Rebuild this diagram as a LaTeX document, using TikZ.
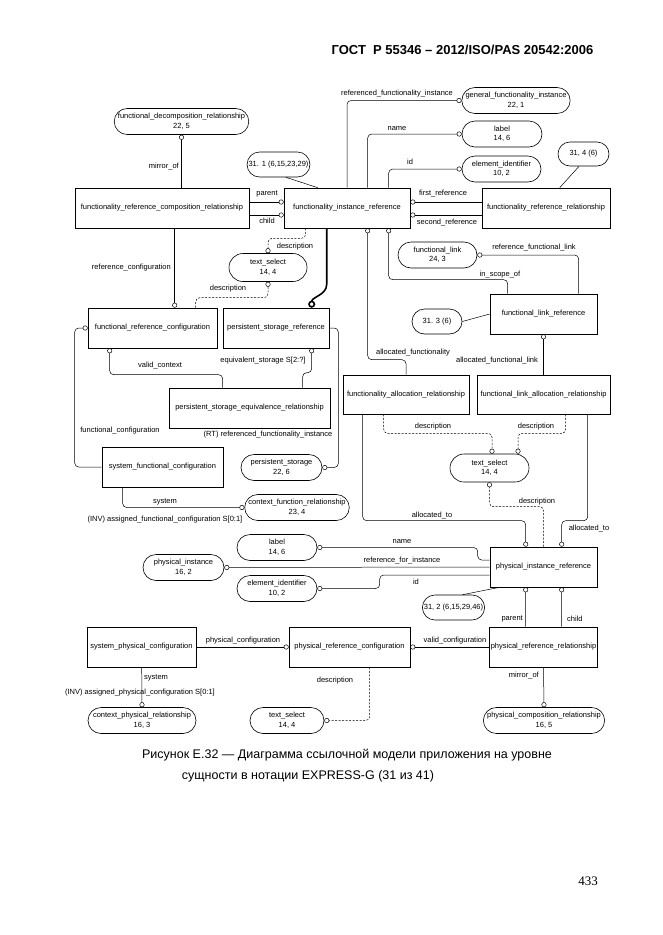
\documentclass[tikz,border=0pt]{standalone}
\usepackage{fontspec}
\setmainfont{Liberation Sans}
\newfontfamily\pagenumfont{Liberation Serif}
\usetikzlibrary{arrows.meta,calc,shapes.misc}
\newcommand\dfont{\fontsize{7.5}{9.5}\selectfont}

\tikzset{
  entity/.style={draw, line width=0.6pt, minimum height=40pt, inner sep=1pt, font=\dfont},
  stype/.style={draw, rounded rectangle, line width=0.6pt, minimum height=26pt,
    inner sep=1pt, align=center, font=\dfont},
  conn/.style={line width=0.5pt, rounded corners=4pt},
  optconn/.style={conn, dash pattern=on 2pt off 1.5pt},
  ring/.style={-{Circle[open,length=5pt]}},
  ringstart/.style={{Circle[open,length=5pt]}-},
  lbl/.style={font=\dfont, inner sep=0pt},
}

\begin{document}
\begin{tikzpicture}[x=1pt,y=-1pt]
  \useasboundingbox (0,0) rectangle (662,935);

  % page header, caption, page number
  \node[font=\bfseries\fontsize{13}{15}\selectfont] (hdr) at (462.5,50)
  {ГОСТ\ \ Р 55346 – 2012/ISO/PAS 20542:2006};
  \node[font=\fontsize{12.5}{15}\selectfont] (capA) at (347,755)
  {Рисунок Е.32 — Диаграмма ссылочной модели приложения на уровне};
  \node[font=\fontsize{12.5}{15}\selectfont] (capB) at (308,776)
  {сущности в нотации EXPRESS-G (31 из 41)};
  \node[font=\pagenumfont\fontsize{13}{15}\selectfont] (pnum) at (588,881) {433};

  % entities
  \node[entity, minimum width=174pt] (frcr) at (162,208)
  {functionality\_reference\_composition\_relationship};
  \node[entity, minimum width=126pt] (fir) at (347,208) {functionality\_instance\_reference};
  \node[entity, minimum width=128pt] (frr) at (546,208) {functionality\_reference\_relationship};
  \node[entity, minimum width=129pt] (frc) at (152.5,328) {functional\_reference\_configuration};
  \node[entity, minimum width=106pt] (psr) at (276,328) {persistent\_storage\_reference};
  \node[entity, minimum width=161pt] (pser) at (249.5,408)
  {persistent\_storage\_equivalence\_relationship};
  \node[entity, minimum width=121pt] (sfc) at (162.5,467) {system\_functional\_configuration};
  \node[entity, minimum width=107pt] (flr) at (543.5,314) {functional\_link\_reference};
  \node[entity, minimum width=126pt, minimum height=39pt] (far) at (406,394.5)
  {functionality\_allocation\_relationship};
  \node[entity, minimum width=133pt, minimum height=39pt] (flar) at (543.5,394.5)
  {functional\_link\_allocation\_relationship};
  \node[entity, minimum width=107pt] (pir) at (543.5,567) {physical\_instance\_reference};
  \node[entity, minimum width=107pt] (prr) at (543.5,647) {physical\_reference\_relationship};
  \node[entity, minimum width=121pt] (prc) at (349.5,647) {physical\_reference\_configuration};
  \node[entity, minimum width=109pt] (spc) at (141.5,647) {system\_physical\_configuration};

  % simple types and page references
  \node[stype, minimum width=133pt] (fdr) at (181.5,121.5)
  {functional\_decomposition\_relationship\\22, 5};
  \node[stype, minimum width=61pt, minimum height=25pt] (refA) at (278.5,164.5) {31. 1 (6,15,23,29)};
  \node[stype, minimum width=108pt] (gfi) at (516,100.5) {general\_functionality\_instance\\22, 1};
  \node[stype, minimum width=82pt] (labA) at (502,134) {label\\14, 6};
  \node[stype, minimum width=81pt] (eidA) at (501.5,169) {element\_identifier\\10, 2};
  \node[stype, minimum width=53pt, minimum height=24pt] (refB) at (583.5,154) {31, 4 (6)};
  \node[stype, minimum width=80pt, minimum height=28pt] (tsA) at (268,267.5) {text\_select\\14, 4};
  \node[stype, minimum width=81pt] (fl) at (437.5,255) {functional\_link\\24, 3};
  \node[stype, minimum width=52pt, minimum height=25pt] (refC) at (437,321.5) {31. 3 (6)};
  \node[stype, minimum width=83pt] (ps) at (281.5,467.5) {persistent\_storage\\22, 6};
  \node[stype, minimum width=102pt] (cfr) at (297,507.5) {context\_function\_relationship\\23, 4};
  \node[stype, minimum width=81pt, minimum height=28pt] (tsB) at (489.5,468) {text\_select\\14, 4};
  \node[stype, minimum width=82pt] (labB) at (277,547.5) {label\\14, 6};
  \node[stype, minimum width=83pt] (pinst) at (183.5,567.5) {physical\_instance\\16, 2};
  \node[stype, minimum width=82pt] (eidB) at (277,588.5) {element\_identifier\\10, 2};
  \node[stype, minimum width=61pt, minimum height=25pt] (refD) at (453.5,607.5) {31, 2 (6,15,29,46)};
  \node[stype, minimum width=120pt] (pcr) at (544,720.5) {physical\_composition\_relationship\\16, 5};
  \node[stype, minimum width=110pt] (cpr) at (142,720.5) {context\_physical\_relationship\\16, 3};
  \node[stype, minimum width=76pt] (tsC) at (287,720.5) {text\_select\\14, 4};

  % upper part
  \draw[conn, ring] (fdr.south |- frcr.north) -- (fdr.south);
  \node[lbl, anchor=east] (lmirA) at (179,167) {mirror\_of};
  \draw[conn] (refA.300) -- ($(fir.north west)+(34,0)$);
  \draw[conn, ring] (fir.north) |- (gfi.west);
  \node[lbl] (lrfi) at (397,94) {referenced\_functionality\_instance};
  \draw[conn, ring] ($(fir.north west)+(84,0)$) |- (labA.west);
  \node[lbl] (lname) at (397,129) {name};
  \draw[conn, ring] ($(fir.north west)+(105,0)$) |- (eidA.west);
  \node[lbl] (lid) at (410,162) {id};
  \draw[conn] (refB.250) -- ($(frr.north west)+(78,0)$);

  \draw[conn, ring] ($(frcr.east)+(0,-6)$) -- ($(fir.west)+(0,-6)$);
  \node[lbl] (lparA) at (267,194) {parent};
  \draw[conn, ring] ($(frcr.east)+(0,7)$) -- ($(fir.west)+(0,7)$);
  \node[lbl] (lchildA) at (267,221) {child};
  \draw[conn, ring] ($(frr.west)+(0,-6)$) -- ($(fir.east)+(0,-6)$);
  \node[lbl] (lfirst) at (443,194) {first\_reference};
  \draw[conn, ring] ($(frr.west)+(0,7)$) -- ($(fir.east)+(0,7)$);
  \node[lbl] (lsecond) at (447,223) {second\_reference};

  % subtype of functionality_instance_reference
  \draw[line width=1.6pt, -{Circle[open,length=7pt]}] ($(fir.south west)+(43,0)$) -- ++(0,56)
  to[out=270,in=90] ($(psr.north west)+(89,0)$);

  \draw[optconn, ring] ($(fir.south west)+(22,0)$) -- ++(0,10) -| (tsA.north);
  \node[lbl] (ldescA) at (295,247) {description};
  \draw[optconn, ring] ($(frc.north west)+(108,0)$) -- ++(0,-10) -| (tsA.south);
  \node[lbl] (ldescB) at (228,289) {description};
  \draw[conn, ring] ($(frcr.south west)+(100,0)$) -- ($(frc.north west)+(87,0)$);
  \node[lbl, anchor=east] (lrefconf) at (171,268) {reference\_configuration};

  \draw[conn, ring] ($(pser.north west)+(54,0)$) -- ++(0,-13) -| ($(frc.south west)+(22,0)$);
  \node[lbl] (lvalid) at (160,366) {valid\_context};
  \draw[conn, ring] ($(pser.north west)+(134,0)$) -- ++(0,-15) -| ($(psr.south west)+(89,0)$);
  \node[lbl] (lequiv) at (263,361) {equivalent\_storage S[2:?]};
  \node[lbl] (lrt) at (268,435) {(RT) referenced\_functionality\_instance};

  \draw[conn, ring] (sfc.west) -- ++(-27,0) |- (frc.west);
  \node[lbl] (lfconf) at (120,431) {functional\_configuration};
  \draw[conn, ring] (psr.east) -- ++(9,0) |- (ps.east);
  \draw[conn, ring] ($(sfc.south west)+(21,0)$) |- (cfr.west);
  \node[lbl] (lsysA) at (165,502) {system};
  \node[lbl] (linvA) at (165,520) {(INV) assigned\_functional\_configuration S[0:1]};

  % functional link part
  \draw[conn, ring] ($(flr.north west)+(89,0)$) |- (fl.east);
  \node[lbl] (lrfl) at (534,248) {reference\_functional\_link};
  \draw[conn, ring] ($(flr.north west)+(18,0)$) -- ++(0,-14) -| ($(fir.south west)+(105,0)$);
  \node[lbl] (lscope) at (500,275) {in\_scope\_of};
  \draw[conn] (refC.east) -- (flr.west);
  \draw[conn, ring] (far.north) -- ++(0,-15) -| ($(fir.south west)+(84,0)$);
  \node[lbl] (lallocf) at (413,353) {allocated\_functionality};
  \draw[conn, ring] (flar.north) -- (flr.south);
  \node[lbl] (lafl) at (497,361) {allocated\_functional\_link};

  \draw[optconn, ring] ($(far.south west)+(41,0)$) -- ++(0,19) -| ($(tsB.north west)+(28,0)$);
  \node[lbl] (ldescC) at (433,427) {description};
  \draw[optconn, ring] ($(flar.south west)+(89,0)$) -- ++(0,19) -| ($(tsB.north west)+(54,0)$);
  \node[lbl] (ldescD) at (536,427) {description};
  \draw[optconn, ring] (pir.north) -- ++(0,-40) -| (tsB.south);
  \node[lbl] (ldescE) at (537,502) {description};

  \draw[conn, ring] ($(far.south west)+(20,0)$) |- ($(pir.north west)+(36,-26)$)
  -- ($(pir.north west)+(36,0)$);
  \node[lbl] (lallocL) at (432,516) {allocated\_to};
  \draw[conn, ring] ($(flar.south west)+(111,0)$) |- ($(pir.north west)+(72,-26)$)
  -- ($(pir.north west)+(72,0)$);
  \node[lbl] (lallocR) at (589,529) {allocated\_to};

  % physical part
  \draw[conn, ring] ($(pir.west)+(0,-7)$) -- ++(-12,0) |- (labB.east);
  \node[lbl] (lnameB) at (402,542) {name};
  \draw[conn, ring] (pir.west) -- (pinst.east);
  \node[lbl] (lrfinst) at (402,561) {reference\_for\_instance};
  \draw[conn, ring] ($(pir.west)+(0,8)$) -- ++(-110,0) |- (eidB.east);
  \node[lbl] (lidB) at (416,582) {id};
  \draw[conn] (refD.55) -- ($(pir.south west)+(10,0)$);

  \draw[conn, ringstart] ($(pir.south west)+(36,0)$) -- ($(prr.north west)+(36,0)$);
  \node[lbl, anchor=east] (lparB) at (523,619) {parent};
  \draw[conn, ringstart] ($(pir.south west)+(72,0)$) -- ($(prr.north west)+(72,0)$);
  \node[lbl, anchor=west] (lchildB) at (567,619) {child};
  \draw[conn, ring] (prr.south) -- (pcr.north);
  \node[lbl, anchor=east] (lmirB) at (539,676) {mirror\_of};

  \draw[conn, ring] (prr.west) -- (prc.east);
  \node[lbl] (lvconf) at (455,641) {valid\_configuration};
  \draw[conn, ring] (spc.east) -- (prc.west);
  \node[lbl] (lpconf) at (243,641) {physical\_configuration};
  \draw[conn, ring] ($(spc.south west)+(55,0)$) -- (cpr.north);
  \node[lbl, anchor=west] (lsysB) at (144,678) {system};
  \node[lbl] (linvB) at (140,693) {(INV) assigned\_physical\_configuration S[0:1]};
  \draw[optconn, ring] ($(prc.south west)+(81,0)$) |- (tsC.east);
  \node[lbl] (ldescF) at (335,681) {description};
\end{tikzpicture}
\end{document}
